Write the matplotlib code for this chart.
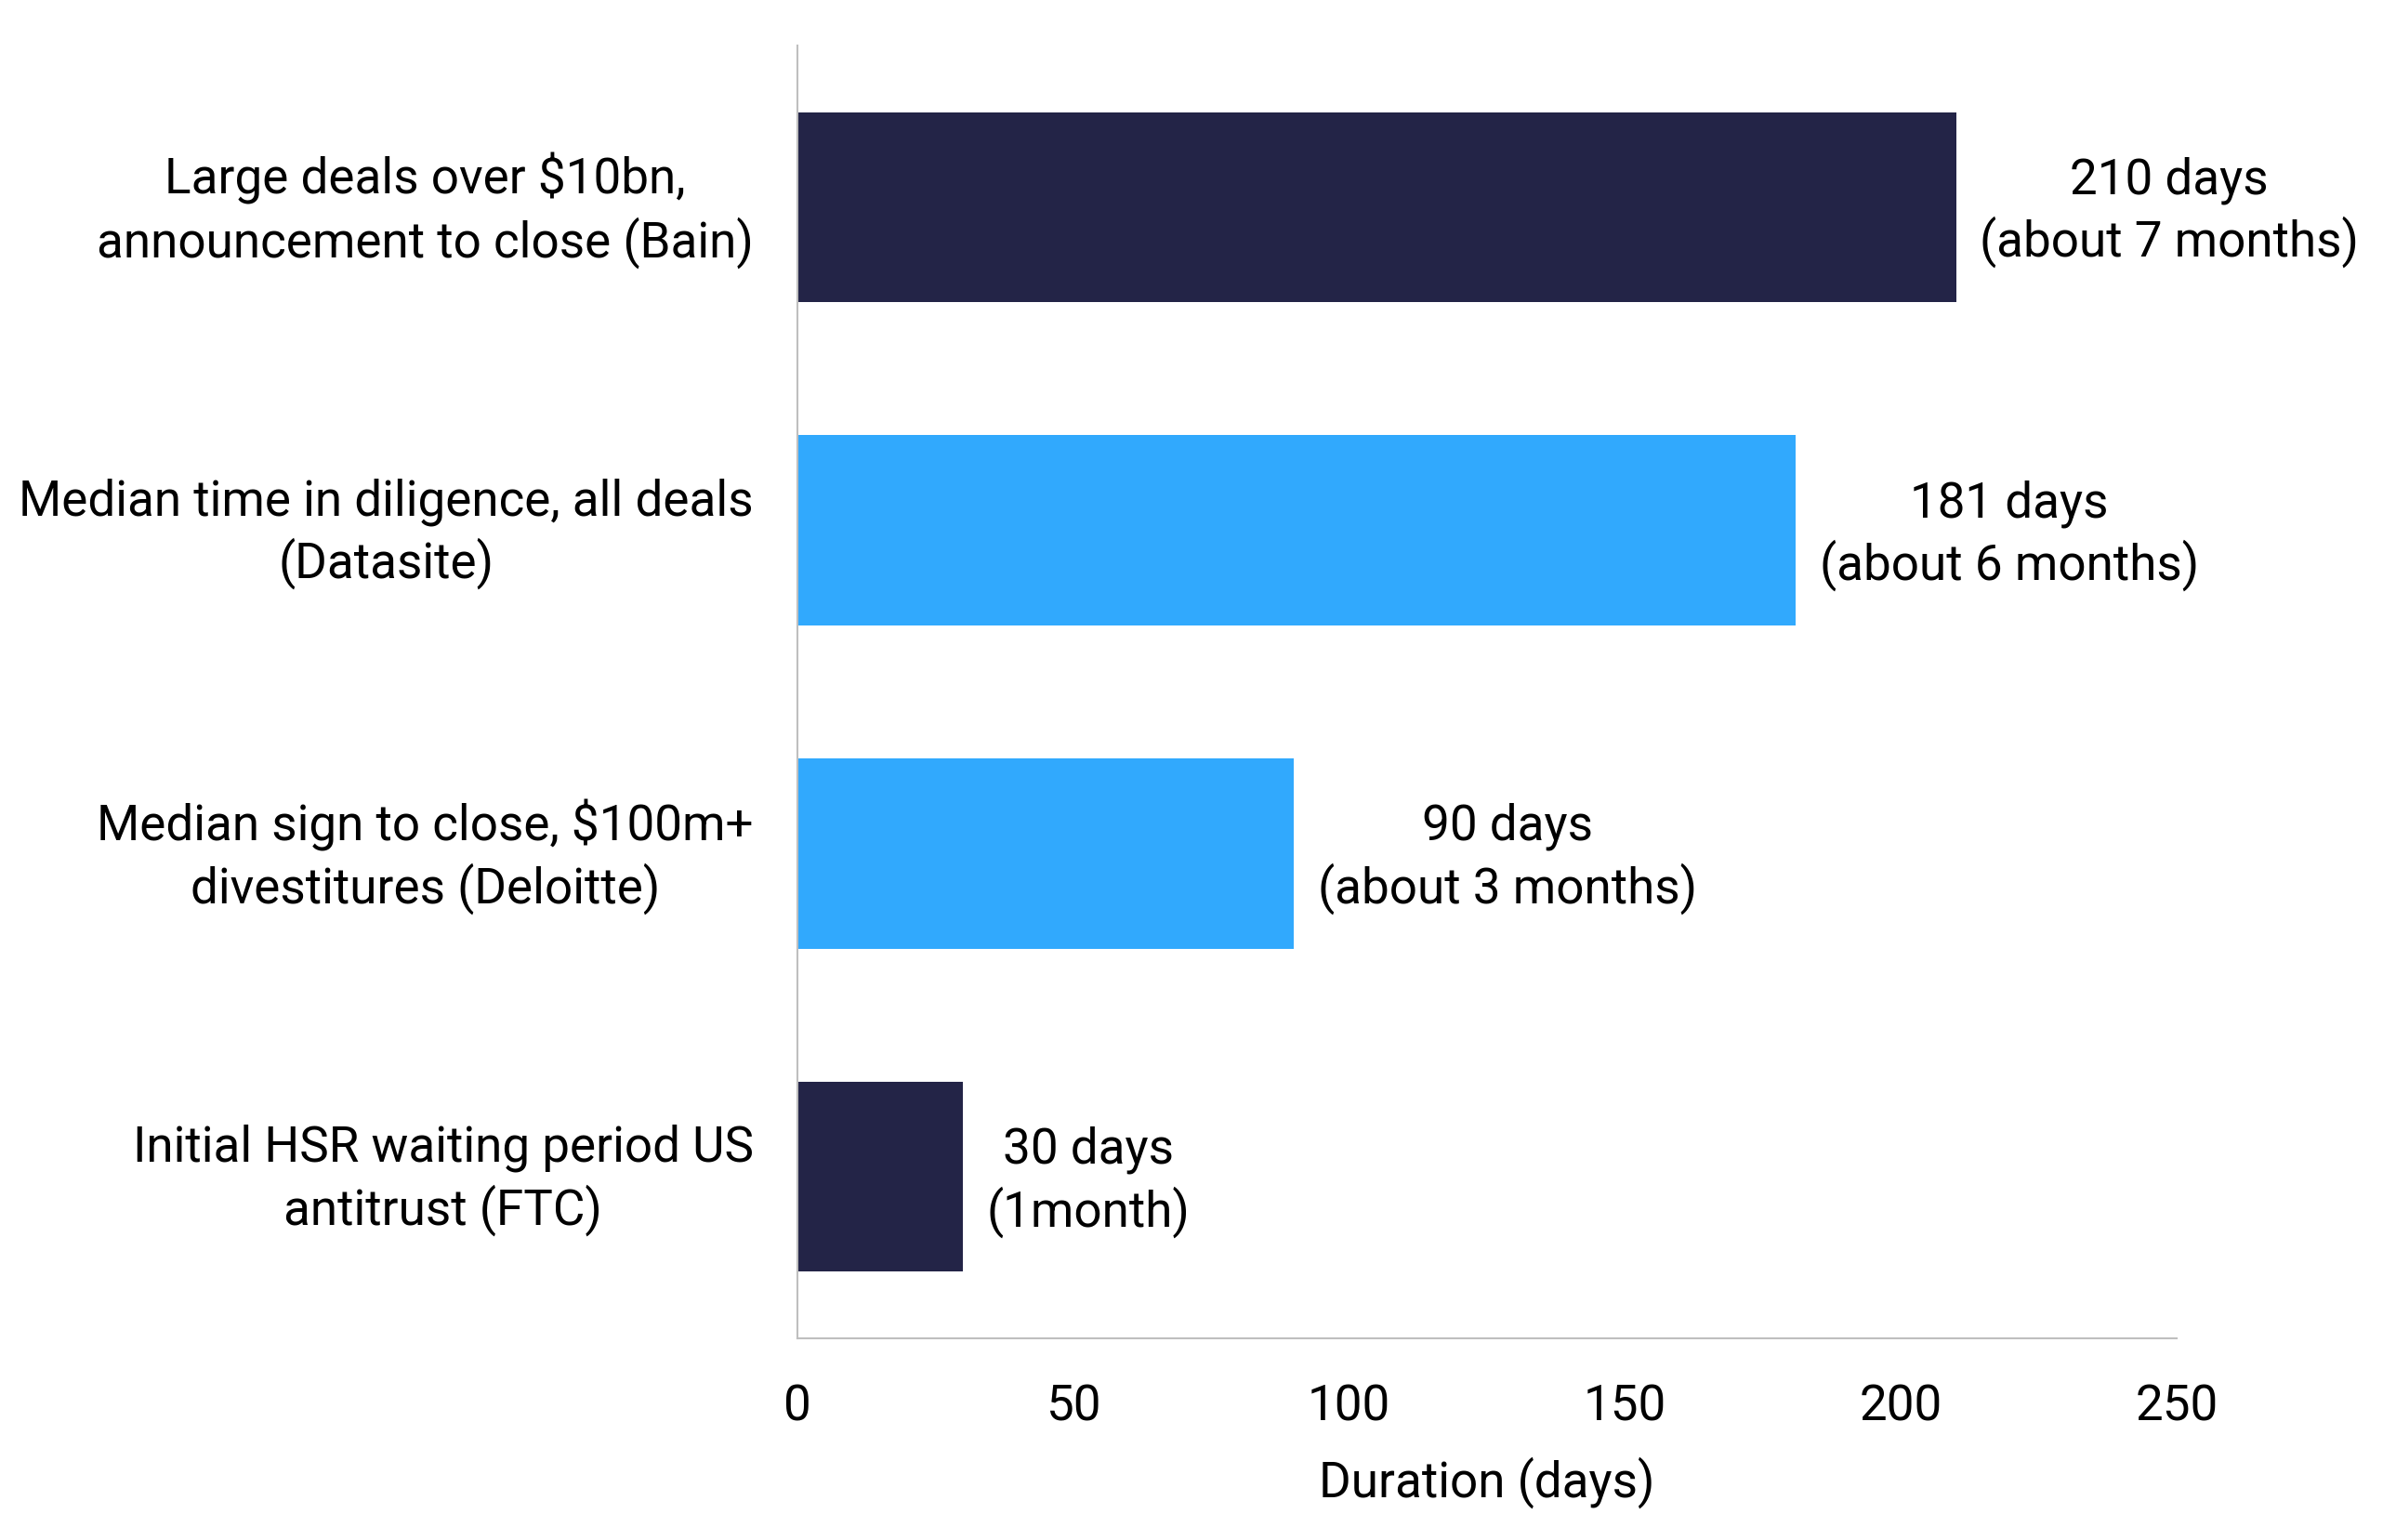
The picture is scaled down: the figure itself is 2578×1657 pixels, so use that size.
import matplotlib.pyplot as plt
from matplotlib.transforms import ScaledTranslation

categories = [
    "Large deals over $10bn,\nannouncement to close (Bain)",
    "Median time in diligence, all deals\n(Datasite)",
    "Median sign to close, $100m+\ndivestitures (Deloitte)",
    "Initial HSR waiting period US\nantitrust (FTC)",
]
days = [210, 181, 90, 30]
value_labels = [
    "210 days\n(about 7 months)",
    "181 days\n(about 6 months)",
    "90 days\n(about 3 months)",
    "30 days\n(1month)",
]
bar_colors = ["#232447", "#31A9FD", "#31A9FD", "#232447"]
xticks = [0, 50, 100, 150, 200, 250]

plt.rcParams['font.family'] = ['Roboto', 'DejaVu Sans']
fs = 19.1

fig = plt.figure(figsize=(12.89, 8.29), dpi=200)
ax = fig.add_axes([0.3328, 0.1309, 0.9085 - 0.3328, 0.9698 - 0.1309])

pos = list(range(len(categories)))
ax.barh(pos, days, height=0.588, color=bar_colors)

for p, d, lab in zip(pos, days, value_labels):
    ax.annotate(lab, xy=(d, p), xytext=(9.2, -1.6), textcoords='offset points',
                ha='left', va='center', multialignment='center', fontsize=fs,
                color='black', linespacing=1.3)

ax.set_ylim(len(categories) - 0.5, -0.5)
ax.set_xlim(0, 250)
ax.set_yticks(pos)
ax.set_yticklabels(categories, fontsize=fs, multialignment='center',
                   linespacing=1.3, va='center')
ax.set_xticks(xticks)
ax.set_xticklabels([str(t) for t in xticks], fontsize=fs)
ax.tick_params(axis='y', length=0, pad=17)
ax.tick_params(axis='x', length=0, pad=17.2)
ax.set_xlabel("Duration (days)", fontsize=fs, labelpad=10)

# nudge the category labels down slightly
shift = ScaledTranslation(0, -1.0 / 72, fig.dpi_scale_trans)
for t in ax.get_yticklabels():
    t.set_transform(t.get_transform() + shift)

for s in ['top', 'right']:
    ax.spines[s].set_visible(False)
for s in ['left', 'bottom']:
    ax.spines[s].set_color('#BFBFBF')
    ax.spines[s].set_linewidth(0.75)

fig.savefig("out.png", dpi=200, facecolor='white')
